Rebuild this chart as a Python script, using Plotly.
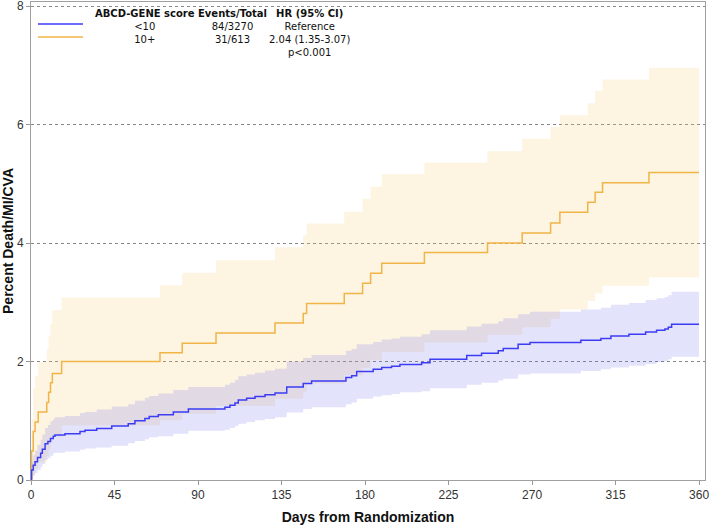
import plotly.graph_objects as go

# ---------------- data ----------------
# ABCD-GENE score 10+ (orange)
hi_days = [0, 0.3, 1.2, 2.2, 3.9, 8.5, 9.5, 10.5, 11.5, 16.5, 69.5, 81.5, 99.7, 131.5,
           146.7, 148.5, 168.8, 178.7, 183.0, 189.0, 212.0, 246.0, 264.7, 280.0, 285.0,
           300.0, 304.0, 308.0, 333.0, 360.0]
hi_est = [0, 0.49, 0.82, 0.98, 1.15, 1.31, 1.48, 1.64, 1.80, 2.00, 2.15, 2.31, 2.48, 2.65,
          2.81, 2.98, 3.15, 3.32, 3.49, 3.66, 3.84, 4.00, 4.17, 4.34, 4.52,
          4.69, 4.86, 5.02, 5.19, 5.19]
hi_upper = [0, 1.04, 1.55, 1.76, 1.99, 2.21, 2.44, 2.64, 2.87, 3.08, 3.29, 3.50, 3.71, 3.93,
            4.13, 4.33, 4.53, 4.75, 4.95, 5.16, 5.36, 5.55, 5.76, 5.96, 6.16,
            6.36, 6.57, 6.76, 6.96, 6.96]
hi_lower = [0, 0.00, 0.09, 0.20, 0.31, 0.41, 0.52, 0.64, 0.73, 0.92, 1.01, 1.12, 1.25, 1.37,
            1.49, 1.63, 1.77, 1.89, 2.03, 2.16, 2.32, 2.45, 2.58, 2.72, 2.88,
            3.02, 3.15, 3.28, 3.42, 3.42]

# ABCD-GENE score <10 (blue)
lo_days = [0, 0.3, 1.2, 2.2, 3.5, 5.2, 6.1, 7.6, 9.1, 10.5, 12.0, 12.9, 18.3, 26.4, 29.1,
           35.4, 43.5, 52.4, 56.0, 61.4, 63.7, 68.6, 76.7, 84.8, 104.5, 107.2, 109.9, 111.7,
           116.2, 120.7, 126.1, 131.5, 137.8, 146.7, 151.2, 169.7, 172.8, 175.5, 184.4,
           189.0, 194.3, 198.8, 210.5, 215.0, 234.8, 242.8, 251.8, 254.5, 262.5, 268.9,
           296.3, 307.1, 312.5, 322.2, 331.2, 337.1, 341.6, 343.4, 345.2, 360.0]
lo_est = [0, 0.17, 0.25, 0.31, 0.38, 0.45, 0.52, 0.61, 0.65, 0.70, 0.74, 0.76, 0.78, 0.82, 0.84,
          0.87, 0.91, 0.95, 1.00, 1.04, 1.07, 1.10, 1.15, 1.20, 1.23, 1.26, 1.30, 1.35,
          1.38, 1.41, 1.44, 1.47, 1.57, 1.63, 1.67, 1.73, 1.76, 1.83, 1.87,
          1.90, 1.92, 1.95, 1.98, 2.04, 2.10, 2.14, 2.18, 2.22, 2.29, 2.32,
          2.36, 2.39, 2.43, 2.46, 2.50, 2.53, 2.55, 2.58, 2.63, 2.63]
lo_upper = [0, 0.31, 0.42, 0.50, 0.59, 0.68, 0.77, 0.88, 0.93, 0.99, 1.03, 1.06, 1.08, 1.13, 1.15,
            1.19, 1.24, 1.28, 1.34, 1.39, 1.42, 1.46, 1.52, 1.57, 1.61, 1.64, 1.69, 1.75,
            1.78, 1.81, 1.85, 1.88, 2.00, 2.06, 2.11, 2.18, 2.21, 2.29, 2.33,
            2.37, 2.39, 2.42, 2.46, 2.53, 2.59, 2.64, 2.68, 2.73, 2.80, 2.84,
            2.88, 2.91, 2.96, 2.99, 3.04, 3.07, 3.09, 3.12, 3.18, 3.18]
lo_lower = [0, 0.03, 0.08, 0.12, 0.17, 0.22, 0.27, 0.34, 0.37, 0.41, 0.45, 0.46, 0.48, 0.51, 0.53,
            0.55, 0.58, 0.62, 0.66, 0.69, 0.72, 0.74, 0.78, 0.83, 0.85, 0.88, 0.91, 0.95,
            0.98, 1.01, 1.03, 1.06, 1.14, 1.20, 1.23, 1.28, 1.31, 1.37, 1.41,
            1.43, 1.45, 1.48, 1.50, 1.55, 1.61, 1.64, 1.68, 1.71, 1.78, 1.80,
            1.84, 1.87, 1.90, 1.93, 1.96, 1.99, 2.01, 2.04, 2.08, 2.08]

x_ticks = [0, 45, 90, 135, 180, 225, 270, 315, 360]
y_ticks = [0, 2, 4, 6, 8]

legend_header = ["ABCD-GENE score", "Events/Total", "HR (95% CI)"]
legend_col1 = ["<10", "10+"]
legend_col2 = ["84/3270", "31/613"]
legend_col3 = ["Reference", "2.04 (1.35-3.07)", "p<0.001"]

BLUE = "#3c3cf5"
ORANGE = "#f0b447"
BLUE_FILL = "rgba(100,100,240,0.18)"
ORANGE_FILL = "rgba(245,200,110,0.20)"

# ---------------- figure ----------------
W, H = 709, 525
L, R, T, B = 31, 4, 2, 45

fig = go.Figure()

# orange CI band
fig.add_trace(go.Scatter(x=hi_days, y=hi_lower, mode="lines", line=dict(width=0, shape="hv"),
                         hoverinfo="skip", showlegend=False))
fig.add_trace(go.Scatter(x=hi_days, y=hi_upper, mode="lines", line=dict(width=0, shape="hv"),
                         fill="tonexty", fillcolor=ORANGE_FILL, hoverinfo="skip", showlegend=False))
# blue CI band
fig.add_trace(go.Scatter(x=lo_days, y=lo_lower, mode="lines", line=dict(width=0, shape="hv"),
                         hoverinfo="skip", showlegend=False))
fig.add_trace(go.Scatter(x=lo_days, y=lo_upper, mode="lines", line=dict(width=0, shape="hv"),
                         fill="tonexty", fillcolor=BLUE_FILL, hoverinfo="skip", showlegend=False))
# curves
fig.add_trace(go.Scatter(x=hi_days, y=hi_est, mode="lines", line=dict(color=ORANGE, width=1.5, shape="hv"),
                         name="10+", showlegend=False))
fig.add_trace(go.Scatter(x=lo_days, y=lo_est, mode="lines", line=dict(color=BLUE, width=1.5, shape="hv"),
                         name="<10", showlegend=False))

pw = W - L - R
ph = H - T - B


def px2paper_x(px):
    return (px - L) / pw


def px2paper_y(py):
    return (H - B - py) / ph


# legend table: one multi-line annotation per column
font_txt = dict(family="DejaVu Sans, Verdana, sans-serif", size=10, color="#111")
col_x = [145, 232, 309]
cols = [legend_col1, legend_col2, legend_col3]
for cx, head, lines in zip(col_x, legend_header, cols):
    text = "<b>" + head + "</b><br>" + "<br>".join(lines)
    fig.add_annotation(x=px2paper_x(cx), y=px2paper_y(7), xref="paper", yref="paper",
                       text=text, showarrow=False, xanchor="center", yanchor="top",
                       align="center", borderpad=0, font=font_txt)
for ry, col in zip([24, 37], [BLUE, ORANGE]):
    fig.add_shape(type="line", xref="paper", yref="paper",
                  x0=px2paper_x(38), x1=px2paper_x(83), y0=px2paper_y(ry), y1=px2paper_y(ry),
                  line=dict(color=col, width=1.5))

axis_font = dict(family="Liberation Sans, Arial, sans-serif", size=12, color="#333")
title_font = dict(family="Liberation Sans, Arial, sans-serif", size=14, color="#111")
fig.update_layout(
    width=W, height=H,
    margin=dict(l=L, r=R, t=T, b=B, pad=0, autoexpand=False),
    plot_bgcolor="white", paper_bgcolor="white",
    xaxis=dict(range=[0, 363.2], tickvals=x_ticks, ticks="outside", ticklen=4, tickcolor="#999",
               showline=True, linecolor="#a0a0a0", linewidth=1, mirror=True, automargin=False,
               ticklabeloverflow="allow",
               showgrid=False, zeroline=False, tickfont=axis_font,
               title=dict(text="<b>Days from Randomization</b>", standoff=10, font=title_font)),
    yaxis=dict(range=[0, 8.07], tickvals=y_ticks, ticks="outside", ticklen=4, tickcolor="#999",
               showline=True, linecolor="#a0a0a0", linewidth=1, mirror=True, automargin=False,
               ticklabeloverflow="allow",
               showgrid=True, gridcolor="#888", griddash="dot", gridwidth=1, zeroline=False,
               tickfont=axis_font,
               title=dict(text="<b>Percent Death/MI/CVA</b>", standoff=6, font=title_font)),
    showlegend=False,
)

fig.write_html("out.html", config={"displayModeBar": False},
               post_script="document.body.style.margin='0';document.body.style.padding='0';")
